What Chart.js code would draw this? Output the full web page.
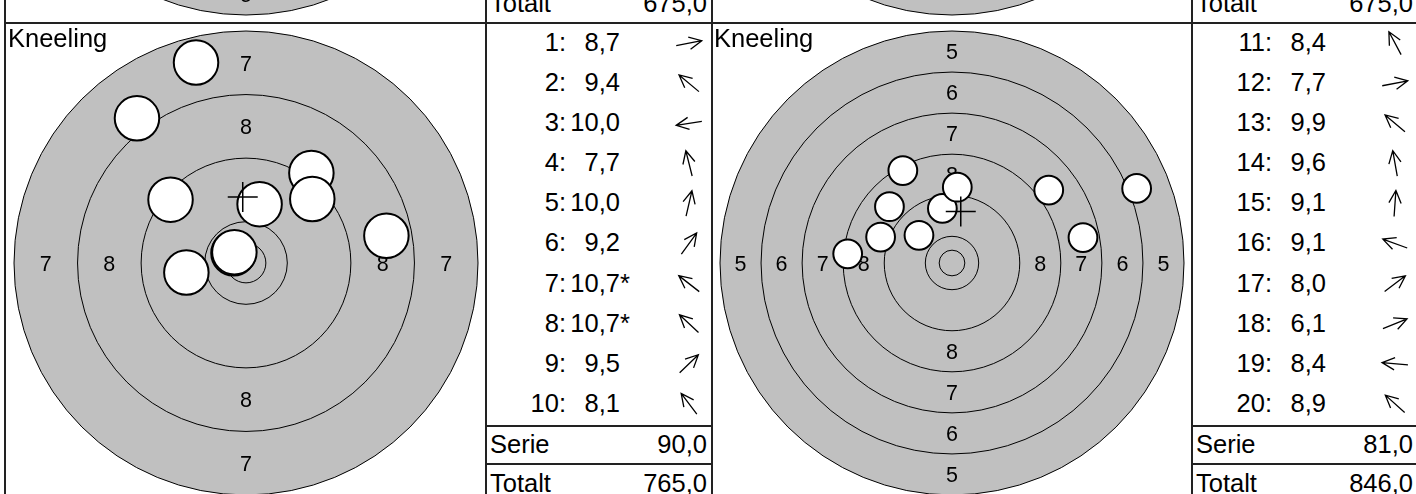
<!DOCTYPE html>
<html>
<head>
<meta charset="utf-8">
<title>Kneeling</title>
<script src="https://cdn.jsdelivr.net/npm/chart.js@4.4.1/dist/chart.umd.min.js"></script>
<style>
  html, body { margin: 0; padding: 0; }
  body {
    width: 1416px; height: 494px; overflow: hidden; background: #fff; position: relative;
    font-family: "Liberation Sans", Arial, Helvetica, sans-serif; color: #000;
  }
  canvas.target { position: absolute; }
  .txt { position: absolute; font-size: 25.5px; line-height: 25.5px; white-space: nowrap; }
  svg.grid { position: absolute; left: 0; top: 0; }
</style>
</head>
<body>
<script>
// series 1 (shots 1-10)
var shotNumbersLeft = [1, 2, 3, 4, 5, 6, 7, 8, 9, 10];
var scoresLeft      = [8.7, 9.4, 10.0, 7.7, 10.0, 9.2, 10.7, 10.7, 9.5, 8.1];
var directionsLeft  = [11, 140, 189, 104, 77, 54, 142, 137, 44, 127];   // deg, ccw from 3 o'clock
var innerTensLeft   = [false, false, false, false, false, false, true, true, false, false];

// series 2 (shots 11-20)
var shotNumbersRight = [11, 12, 13, 14, 15, 16, 17, 18, 19, 20];
var scoresRight      = [8.4, 7.7, 9.9, 9.6, 9.1, 9.1, 8.0, 6.1, 8.4, 8.9];
var directionsRight  = [118, 11, 140, 100, 86, 160, 37, 22, 175, 138];
var innerTensRight   = [false, false, false, false, false, false, false, false, false, false];

var outerRingLeft = 7, outerRingRight = 5;     // lowest ring shown on each card
var previousOuterRings = [5, 7];               // cards of the row above
var previousTotals = [675.0, 675.0];
var startTotal = 675.0;
var positionName = 'Kneeling';
var summaryLabels = ['Serie', 'Totalt'];

// 50 m rifle target, mm
var TEN_R = 5.2, RING_STEP = 8, INNER_TEN_R = 2.5, BULLET_R = 2.8;

// page layout, px
var PAGE_W = 1416;
var ROW_TOPS = [-457, 23];
var CELL = 480, OUTER_PX = 232;
var TARGET_X = [6, 712], TABLE_X = [486, 1192], TABLE_W = 226;
var FONT = 25.5, RING_FONT = 21.5;

function ringRadius(n) { return TEN_R + (10 - n) * RING_STEP; }
function shotDistance(score) { return Math.max(0, (10.95 - score) * RING_STEP); }
function fmt(v) { return v.toFixed(1).replace('.', ','); }

function holesFrom(scores, dirs) {
  return scores.map(function (s, i) {
    var d = shotDistance(s), a = dirs[i] * Math.PI / 180;
    return { x: d * Math.cos(a), y: d * Math.sin(a) };
  });
}
function meanOf(pts) {
  var x = 0, y = 0;
  pts.forEach(function (p) { x += p.x; y += p.y; });
  return { x: x / pts.length, y: y / pts.length };
}
function serieOf(scores) {
  return scores.reduce(function (t, s) { return t + Math.floor(s); }, 0);
}

// rings, grey face and ring numbers under the shots
var targetFace = {
  id: 'targetFace',
  beforeDatasetsDraw: function (chart, args, opts) {
    var ctx = chart.ctx, sx = chart.scales.x, sy = chart.scales.y;
    var cx = sx.getPixelForValue(0), cy = sy.getPixelForValue(0);
    function px(mm) { return Math.abs(sx.getPixelForValue(mm) - cx); }
    ctx.save();
    ctx.beginPath();
    ctx.arc(cx, cy, px(ringRadius(opts.outerRing)), 0, Math.PI * 2);
    ctx.fillStyle = '#c0c0c0';
    ctx.fill();
    ctx.strokeStyle = '#000';
    ctx.lineWidth = 1;
    var radii = [];
    for (var n = opts.outerRing; n <= 10; n++) radii.push(ringRadius(n));
    radii.push(INNER_TEN_R);
    radii.forEach(function (r) {
      ctx.beginPath();
      ctx.arc(cx, cy, px(r), 0, Math.PI * 2);
      ctx.stroke();
    });
    ctx.fillStyle = '#000';
    ctx.font = RING_FONT + 'px "Liberation Sans", Arial, sans-serif';
    ctx.textAlign = 'center';
    ctx.textBaseline = 'alphabetic';
    var lift = RING_FONT * 0.36;
    for (var k = opts.outerRing; k <= 8; k++) {
      var r = px((ringRadius(k) + ringRadius(k + 1)) / 2);
      [[0, -r], [0, r], [-r, 0], [r, 0]].forEach(function (o) {
        ctx.fillText(String(k), cx + o[0], cy + o[1] + lift);
      });
    }
    ctx.restore();
  }
};

function makeTarget(left, cardTop, outerRing, holes) {
  var canvas = document.createElement('canvas');
  canvas.className = 'target';
  canvas.width = CELL; canvas.height = CELL;
  canvas.style.left = left + 'px'; canvas.style.top = cardTop + 'px';
  canvas.style.width = CELL + 'px'; canvas.style.height = CELL + 'px';
  document.body.appendChild(canvas);

  var half = ringRadius(outerRing) * (CELL / 2) / OUTER_PX;
  var datasets = [];
  if (holes.length) {
    datasets.push({
      label: 'Treffpunkt', data: [meanOf(holes)], order: 0,
      pointStyle: 'cross', pointRadius: 15, borderColor: '#000', borderWidth: 1.5
    });
    datasets.push({
      label: 'Skott', data: holes, order: 1,
      pointRadius: function (c) {
        var sx = c.chart.scales.x;
        return Math.abs(sx.getPixelForValue(BULLET_R) - sx.getPixelForValue(0));
      },
      backgroundColor: '#fff', borderColor: '#000', borderWidth: 2
    });
  }
  return new Chart(canvas, {
    type: 'scatter',
    data: { datasets: datasets },
    options: {
      responsive: false, animation: false, events: [],
      layout: { padding: 0, autoPadding: false },
      scales: {
        x: { type: 'linear', min: -half, max: half, display: false },
        y: { type: 'linear', min: -half, max: half, display: false }
      },
      plugins: {
        legend: { display: false },
        tooltip: { enabled: false },
        targetFace: { outerRing: outerRing }
      }
    },
    plugins: [targetFace]
  });
}

function text(str, x, baseline, align) {
  var d = document.createElement('div');
  d.className = 'txt';
  d.textContent = str;
  d.style.top = (baseline - 0.8465 * FONT) + 'px';
  if (align === 'right') d.style.right = (PAGE_W - x) + 'px';
  else d.style.left = x + 'px';
  document.body.appendChild(d);
}

var svgNS = 'http://www.w3.org/2000/svg';
var svg = document.createElementNS(svgNS, 'svg');
svg.setAttribute('class', 'grid');
svg.setAttribute('width', PAGE_W);
svg.setAttribute('height', 494);

function line(x1, y1, x2, y2, w) {
  var l = document.createElementNS(svgNS, 'line');
  l.setAttribute('x1', x1); l.setAttribute('y1', y1);
  l.setAttribute('x2', x2); l.setAttribute('y2', y2);
  l.setAttribute('stroke', '#222'); l.setAttribute('stroke-width', w);
  svg.appendChild(l);
}

// direction arrow next to each shot
function arrow(cx, cy, deg) {
  var a = deg * Math.PI / 180, ux = Math.cos(a), uy = -Math.sin(a);
  var tx = cx + 13 * ux, ty = cy + 13 * uy;
  var s = 26 * Math.PI / 180, h = 14;
  function arm(sign) {
    var bx = -ux, by = -uy, c = Math.cos(sign * s), n = Math.sin(sign * s);
    return [tx + h * (bx * c - by * n), ty + h * (bx * n + by * c)];
  }
  var p = arm(1), q = arm(-1);
  var path = document.createElementNS(svgNS, 'path');
  path.setAttribute('d', 'M' + (cx - 13 * ux) + ' ' + (cy - 13 * uy) + 'L' + tx + ' ' + ty +
    'M' + p[0] + ' ' + p[1] + 'L' + tx + ' ' + ty + 'L' + q[0] + ' ' + q[1]);
  path.setAttribute('fill', 'none');
  path.setAttribute('stroke', '#000');
  path.setAttribute('stroke-width', 1.3);
  svg.appendChild(path);
}

function addTable(x0, rowTop, nums, scores, inner, dirs, serie, total) {
  nums.forEach(function (n, i) {
    var base = rowTop + 28.7 + i * 40.07;
    text(n + ':', x0 + 80, base, 'right');
    text(fmt(scores[i]), x0 + 134, base, 'right');
    if (inner[i]) text('*', x0 + 134, base, 'left');
    arrow(x0 + 203, base - 8.5, dirs[i]);
  });
  text(summaryLabels[0], x0 + 4, rowTop + 431, 'left');
  text(fmt(serie), x0 + 221, rowTop + 431, 'right');
  text(summaryLabels[1], x0 + 4, rowTop + 469.5, 'left');
  text(fmt(total), x0 + 221, rowTop + 469.5, 'right');
  line(x0, rowTop + 403, x0 + TABLE_W, rowTop + 403, 2);
  line(x0, rowTop + 441, x0 + TABLE_W, rowTop + 441, 2);
}

// row above: only its lower edge is on the page
var prevTop = ROW_TOPS[0];
makeTarget(TARGET_X[0], prevTop, previousOuterRings[0], []);
makeTarget(TARGET_X[1], prevTop, previousOuterRings[1], []);
previousTotals.forEach(function (t, i) {
  text(summaryLabels[1], TABLE_X[i] + 4, prevTop + 469.5, 'left');
  text(fmt(t), TABLE_X[i] + 221, prevTop + 469.5, 'right');
});

// current row
var cardTop = ROW_TOPS[1];
var holesLeft = holesFrom(scoresLeft, directionsLeft);
var holesRight = holesFrom(scoresRight, directionsRight);
makeTarget(TARGET_X[0], cardTop, outerRingLeft, holesLeft);
makeTarget(TARGET_X[1], cardTop, outerRingRight, holesRight);
text(positionName, TARGET_X[0] + 2, cardTop + 25, 'left');
text(positionName, TARGET_X[1] + 2, cardTop + 25, 'left');

var serieLeft = serieOf(scoresLeft), serieRight = serieOf(scoresRight);
var totalLeft = startTotal + serieLeft, totalRight = totalLeft + serieRight;
addTable(TABLE_X[0], cardTop, shotNumbersLeft, scoresLeft, innerTensLeft, directionsLeft, serieLeft, totalLeft);
addTable(TABLE_X[1], cardTop, shotNumbersRight, scoresRight, innerTensRight, directionsRight, serieRight, totalRight);

// card borders
line(5, 0, 5, 494, 2);
TABLE_X.concat([TARGET_X[1]]).forEach(function (x) { line(x, 0, x, 494, 2); });
line(5, cardTop, PAGE_W, cardTop, 2);

document.body.appendChild(svg);
</script>
</body>
</html>
